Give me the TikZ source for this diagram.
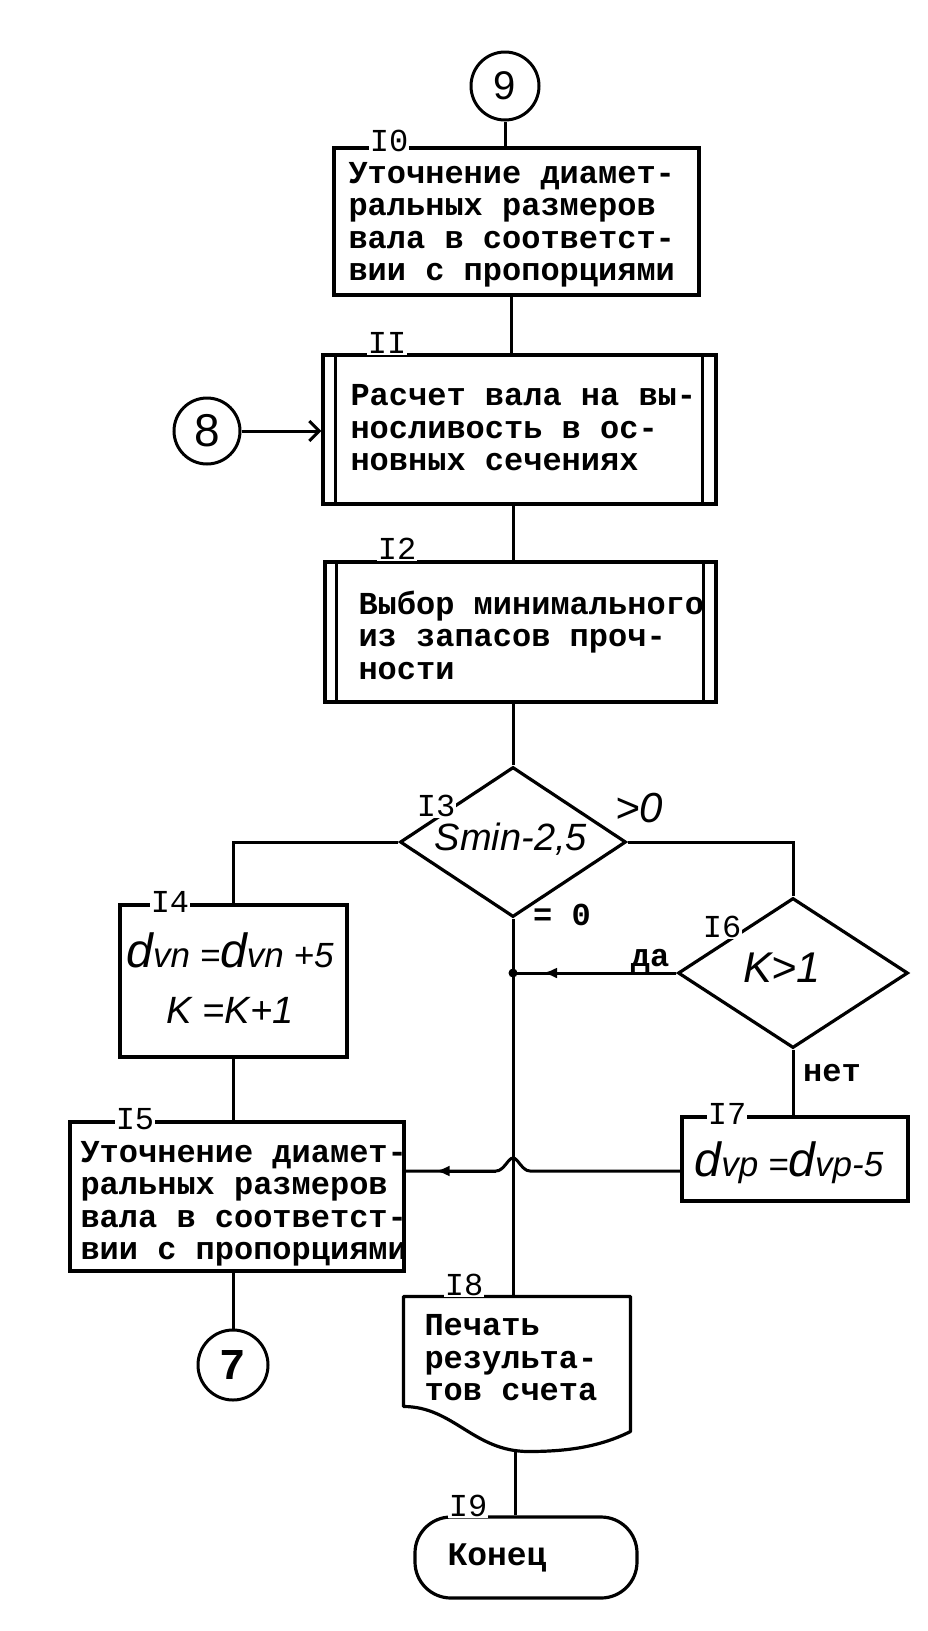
\documentclass[tikz,border=0pt]{standalone}
\usepackage{fontspec}
\usetikzlibrary{shapes.geometric,arrows.meta,calc}
\newfontfamily\twfont{Liberation Mono}
\newfontfamily\hdfamily{Liberation Sans}
\newcommand\bxf{\twfont\bfseries\fontsize{32}{32.5}\selectfont}
\newcommand\lbf{\twfont\fontsize{32}{32}\selectfont}
\newcommand\hdf[1]{\hdfamily\itshape\fontsize{#1}{#1}\selectfont}
\newcommand\hdu[1]{\hdfamily\fontsize{#1}{#1}\selectfont}
\newcommand\dbig{{\fontsize{48}{48}\selectfont d}}
\tikzset{
  boxn/.style={draw, rectangle, inner sep=0pt, line width=3.2pt},
  conn/.style={draw, circle, inner sep=0pt, minimum size=68pt, line width=3pt},
  dia/.style={draw, diamond, inner sep=0pt, line width=3.2pt},
  lab/.style={font=\lbf, fill=white, inner sep=1pt},
  txt/.style={font=\bxf, align=left, inner sep=0pt, anchor=west},
  plain/.style={inner sep=0pt},
  tip/.style={-{Latex[length=14pt,width=11pt]}}
}
\begin{document}
\begin{tikzpicture}[x=1pt,y=-1pt,line width=3pt]
\useasboundingbox (0,0) rectangle (927,1631);
\coordinate (ax) at (511,0);
\coordinate (hopy) at (0,1171);

% top connector 9
\node[conn] (c9) at (505,86) {\hdu{40}9};
% I0
\node[boxn, minimum width=365pt, minimum height=147pt] (I0) at (516.5,221.5) {};
\node[txt] (I0t) at (347,225) {Уточнение диамет-\\ральных размеров\\вала в соответст-\\вии с пропорциями};
% I1
\node[boxn, minimum width=393pt, minimum height=149pt] (I1) at (519.5,429.5) {};
\draw[line width=3.2pt] ([xshift=14pt]I1.north west) -- ([xshift=14pt]I1.south west);
\draw[line width=3.2pt] ([xshift=-15pt]I1.north east) -- ([xshift=-15pt]I1.south east);
\node[txt] (I1t) at (349,428) {Расчет вала на вы-\\носливость в ос-\\новных сечениях};
% connector 8
\node[conn, minimum size=66pt] (c8) at (207,431) {\hdu{46}8};
\draw[-{Straight Barb[length=10pt,width=20pt]}] (c8.east) -- (c8.east -| I1.west);
% I2
\node[boxn, minimum width=391pt, minimum height=140pt] (I2) at (520.5,632) {};
\draw[line width=3.2pt] ([xshift=13pt]I2.north west) -- ([xshift=13pt]I2.south west);
\draw[line width=3.2pt] ([xshift=-14pt]I2.north east) -- ([xshift=-14pt]I2.south east);
\node[txt] (I2t) at (357,635) {Выбор минимального\\из запасов проч-\\ности};
% I3
\node[dia, minimum width=226pt, minimum height=150pt] (I3) at (513,842) {};
\node[plain] (I3t) at (511,839) {\hdf{38}Smin-2,5};
\node[plain] (gt0) at (639,808) {\hdf{42}>0};
\node[plain] (eq0) at (562,915) {\bxf = 0};
% I4
\node[boxn, minimum width=227pt, minimum height=152pt] (I4) at (233.5,981) {};
\node[plain] (I4a) at (230,950) {\hdf{35}\dbig vn =\dbig vn +5};
\node[plain] (I4b) at (230,1010) {\hdf{38}K =K+1};
% I5
\node[boxn, minimum width=334pt, minimum height=149pt] (I5) at (237,1196.5) {};
\node[txt] (I5t) at (79,1204) {Уточнение диамет-\\ральных размеров\\вала в соответст-\\вии с пропорциями};
% connector 7
\node[conn, minimum size=70pt] (c7) at (233,1365) {\twfont\bfseries\fontsize{44}{44}\selectfont 7};
% I6
\node[dia, minimum width=230pt, minimum height=150pt] (I6) at (793,973) {};
\node[plain] (I6t) at (782,968) {\hdf{43}K>1};
\node[plain] (yes) at (650,961) {\bxf да};
\node[plain] (no) at (832,1073) {\bxf нет};
% I7
\node[boxn, minimum width=226pt, minimum height=84pt] (I7) at (795,1159) {};
\node[plain] (I7t) at (789,1163) {\hdf{35}\dbig vp =\dbig vp-5};
% I8 document
\node[minimum width=224pt, minimum height=107pt, inner sep=0pt] (I8) at (517,1351.5) {};
\draw[line width=3.2pt, line join=round] (I8.south west) -- (I8.north west) -- (I8.north east) -- ($(I8.south east)+(0,25)$)
  .. controls ($(I8.south east)+(-30,40)$) and ($(I8.south west)+(165,45)$) .. ($(I8.south west)+(125,45)$)
  .. controls ($(I8.south west)+(70,45)$) and ($(I8.south west)+(50,0)$) .. (I8.south west) -- cycle;
\node[txt] (I8t) at (423,1358) {Печать\\результа-\\тов счета};
\coordinate (I8b) at ($(I8.south west)+(112,44)$);
% I9 terminal
\node[draw, rounded corners=36pt, minimum width=222pt, minimum height=81pt, inner sep=0pt, line width=3.2pt] (I9) at (526,1557.5) {};
\node[txt] (I9t) at (446,1558) {\fontsize{33}{33}\selectfont Конец};

% connectors
\draw (c9.south) -- (c9.south |- I0.north);
\draw (ax |- I0.south) -- (ax |- I1.north);
\draw (I3.north |- I1.south) -- (I3.north |- I2.north);
\draw (I3.north |- I2.south) -- (I3.north);
\draw (I3.west) -| (I4.north);
\draw (I4.south) -- (I4.south |- I5.north);
\draw (c7.north |- I5.south) -- (c7.north);
\draw (I3.east) -| (I6.north);
\draw (I6.west) -- (I3.south |- I6.west);
\draw[tip] (I6.west) -- ($(I3.south |- I6.west)+(30,0)$);
\fill (I3.south |- I6.west) circle (4.5pt);
\draw (I6.south) -- (I6.south |- I7.north);
\coordinate (hc) at (I3.south |- hopy);
\draw (I7.west |- hopy) -- ($(hc)+(17,0)$)
  .. controls ($(hc)+(9,0)$) and ($(hc)+(5,-13)$) .. ($(hc)+(0,-13)$)
  .. controls ($(hc)+(-5,-13)$) and ($(hc)+(-9,0)$) .. ($(hc)+(-17,0)$)
  -- (I5.east |- hopy);
\draw[tip] ($(hc)+(-17,0)$) -- ($(I5.east |- hopy)+(30,0)$);
\draw (I3.south) -- (I3.south |- I8.north);
\draw (I8b) -- (I8b |- I9.north);

% labels
\node[lab] (I0l) at (389,141) {I0};
\node[lab] (I1l) at (387,343) {II};
\node[lab] (I2l) at (397,549) {I2};
\node[lab] (I3l) at (436,806) {I3};
\node[lab] (I4l) at (170,902) {I4};
\node[lab] (I5l) at (135,1119) {I5};
\node[lab] (I6l) at (722,927) {I6};
\node[lab] (I7l) at (727,1114) {I7};
\node[lab] (I8l) at (464,1285) {I8};
\node[lab] (I9l) at (468,1506) {I9};
\end{tikzpicture}
\end{document}
